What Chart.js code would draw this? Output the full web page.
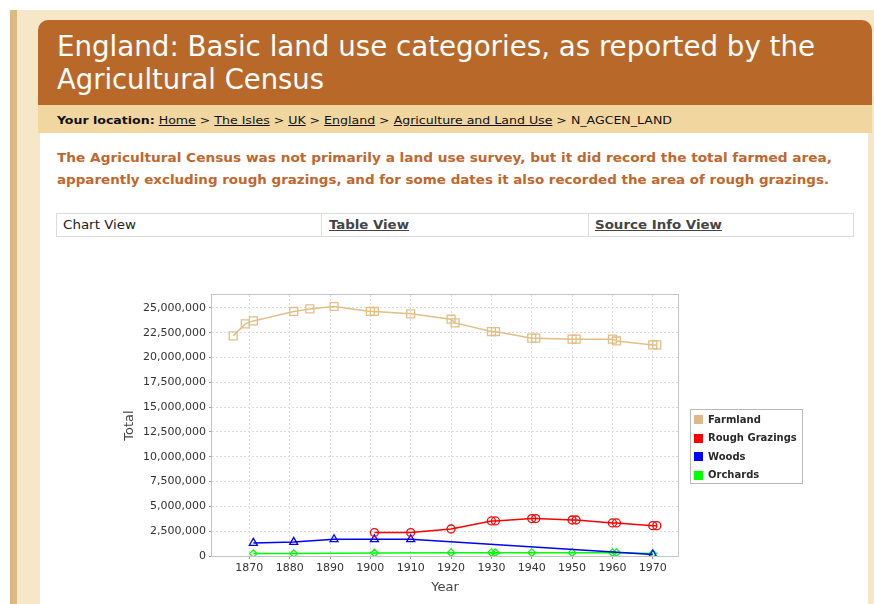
<!DOCTYPE html>
<html>
<head>
<meta charset="utf-8">
<script src="https://cdn.jsdelivr.net/npm/chart.js@4.4.1/dist/chart.umd.min.js"></script>
<style>
  html,body{margin:0;padding:0;}
  body{width:874px;height:604px;overflow:hidden;position:relative;background:#fff;font-family:"DejaVu Sans",sans-serif;}
  .abs{position:absolute;}
  .txt{position:absolute;white-space:nowrap;display:inline-block;transform-origin:0 50%;}
  .u{text-decoration:underline;}
</style>
</head>
<body>
<div class="abs" style="left:10px;top:10px;width:864px;height:594px;background:#f6e7c9;"></div>
<div class="abs" style="left:10px;top:10px;width:7px;height:594px;background:#dcb982;"></div>
<div class="abs" style="left:38px;top:20px;width:834px;height:86px;background:#b8692a;border-radius:10px 10px 0 0;"></div>
<div class="abs" style="left:38px;top:105px;width:834px;height:28px;background:#f2d6a0;"></div>
<div class="abs" style="left:40px;top:133px;width:828px;height:471px;background:#fff;"></div>

<div class="txt" data-w="758" style="left:57px;top:31px;font:28px 'DejaVu Sans Condensed','DejaVu Sans',sans-serif;color:#fff;line-height:32px;">England: Basic land use categories, as reported by the</div>
<div class="txt" data-w="267" style="left:57px;top:64px;font:28px 'DejaVu Sans Condensed','DejaVu Sans',sans-serif;color:#fff;line-height:32px;">Agricultural Census</div>

<div class="txt" data-w="615" style="left:57px;top:113px;font:11px 'DejaVu Sans Condensed','DejaVu Sans',sans-serif;color:#111;line-height:16px;"><b>Your location:</b> <span class="u">Home</span> &gt; <span class="u">The Isles</span> &gt; <span class="u">UK</span> &gt; <span class="u">England</span> &gt; <span class="u">Agriculture and Land Use</span> &gt; N_AGCEN_LAND</div>

<div class="txt" data-w="775" style="left:57px;top:149px;font:bold 13px 'DejaVu Sans Condensed','DejaVu Sans',sans-serif;color:#c1662c;line-height:18px;">The Agricultural Census was not primarily a land use survey, but it did record the total farmed area,</div>
<div class="txt" data-w="772" style="left:57px;top:171px;font:bold 13px 'DejaVu Sans Condensed','DejaVu Sans',sans-serif;color:#c1662c;line-height:18px;">apparently excluding rough grazings, and for some dates it also recorded the area of rough grazings.</div>

<div class="abs" style="left:56px;top:213px;width:796px;height:22px;border:1px solid #dcdcdc;"></div>
<div class="abs" style="left:321px;top:214px;width:1px;height:22px;background:#dcdcdc;"></div>
<div class="abs" style="left:588px;top:214px;width:1px;height:22px;background:#dcdcdc;"></div>
<div class="txt" data-w="73" style="left:63px;top:216px;font:13px 'DejaVu Sans Condensed','DejaVu Sans',sans-serif;color:#222;line-height:18px;">Chart View</div>
<div class="txt u" data-w="80" style="left:329px;top:216px;font:bold 13px 'DejaVu Sans Condensed','DejaVu Sans',sans-serif;color:#444;line-height:18px;">Table View</div>
<div class="txt u" data-w="127" style="left:595px;top:216px;font:bold 13px 'DejaVu Sans Condensed','DejaVu Sans',sans-serif;color:#444;line-height:18px;">Source Info View</div>

<canvas id="c" width="720" height="320" style="position:absolute;left:100px;top:280px;width:720px;height:320px;"></canvas>

<script>
// ---------- data (values in acres) ----------
const xTickYears = [1870,1880,1890,1900,1910,1920,1930,1940,1950,1960,1970];
const yTickValues = [0,2500000,5000000,7500000,10000000,12500000,15000000,17500000,20000000,22500000,25000000];

const seriesNames = ["Farmland","Rough Grazings","Woods","Orchards"];

const farmlandYears  = [1866,1869,1871,1881,1885,1891,1900,1901,1910,1920,1921,1930,1931,1940,1941,1950,1951,1960,1961,1970,1971];
const farmlandValues = [22180000,23390000,23690000,24640000,24900000,25140000,24640000,24640000,24400000,23860000,23490000,22620000,22620000,21950000,21950000,21850000,21850000,21850000,21670000,21270000,21270000];

const roughYears  = [1901,1910,1920,1930,1931,1940,1941,1950,1951,1960,1961,1970,1971];
const roughValues = [2360000,2360000,2720000,3530000,3530000,3770000,3770000,3630000,3630000,3330000,3330000,3060000,3060000];

const woodsYears  = [1871,1881,1891,1901,1910,1970];
const woodsValues = [1310000,1410000,1680000,1680000,1680000,140000];

const orchardYears  = [1871,1881,1901,1920,1930,1931,1940,1950,1960,1961,1970];
const orchardValues = [240000,240000,300000,340000,340000,340000,340000,340000,340000,340000,240000];

// ---------- text fitting ----------
function fitText(){
  document.querySelectorAll('[data-w]').forEach(el=>{
    el.style.transform='none';
    const w = el.getBoundingClientRect().width;
    if (w>0) el.style.transform = 'scaleX(' + (parseFloat(el.dataset.w)/w) + ')';
  });
}
fitText();
if (document.fonts && document.fonts.ready) document.fonts.ready.then(fitText);

const pts = (xs, ys) => xs.map((x,i)=>({x:x, y:ys[i]}));
const colors = ["#e2bf85","#ff0000","#0000ff","#00ff00"];
const styles = ["rect","circle","triangle","rectRot"];
const radii  = [5.6,4.0,4.6,3.8];
const allData = [pts(farmlandYears,farmlandValues), pts(roughYears,roughValues), pts(woodsYears,woodsValues), pts(orchardYears,orchardValues)];

const datasets = seriesNames.map((n,i)=>({
  label: n,
  data: allData[i],
  borderColor: colors[i],
  backgroundColor: colors[i],
  borderWidth: 1.5,
  pointStyle: styles[i],
  pointRadius: radii[i],
  pointBorderColor: colors[i],
  pointBackgroundColor: 'rgba(0,0,0,0)',
  pointBorderWidth: 1.3,
  tension: 0,
  fill: false
}));

const framePlugin = {
  id:'frame',
  beforeDatasetsDraw(chart){
    const {ctx, chartArea:a} = chart;
    ctx.save();
    ctx.strokeStyle = '#c4c4c4';
    ctx.lineWidth = 1;
    ctx.strokeRect(Math.round(a.left)-0.5, Math.round(a.top)-0.5, Math.round(a.width)+1, Math.round(a.height)+1);
    ctx.restore();
  }
};

const legendPlugin = {
  id:'boxLegend',
  afterDraw(chart){
    const ctx = chart.ctx;
    const bx = 590.5, by = 129.5, bw = 112, bh = 74;
    ctx.save();
    ctx.fillStyle = '#fff';
    ctx.fillRect(bx,by,bw,bh);
    ctx.strokeStyle = '#b8b8b8';
    ctx.lineWidth = 1;
    ctx.strokeRect(bx,by,bw,bh);
    ctx.font = 'bold 10px "DejaVu Sans", sans-serif';
    ctx.textBaseline = 'middle';
    chart.data.datasets.forEach((d,i)=>{
      const cy = by + 10 + i*18.5;
      ctx.fillStyle = i === 0 ? '#deb887' : d.borderColor;
      ctx.fillRect(594, Math.round(cy-4.5), 9, 9);
      ctx.fillStyle = '#2a2a2a';
      ctx.fillText(d.label, 608, cy+0.5);
    });
    ctx.restore();
  }
};

new Chart(document.getElementById('c'), {
  type: 'line',
  data: { datasets },
  plugins: [framePlugin, legendPlugin],
  options: {
    responsive: false,
    animation: false,
    devicePixelRatio: 1,
    layout: { padding: { left: 0, top: 15, right: 142, bottom: 0 } },
    plugins: { legend: { display: false }, tooltip: { enabled: false } },
    scales: {
      x: {
        type: 'linear',
        min: 1860.75, max: 1976.25,
        afterBuildTicks: s => { s.ticks = xTickYears.map(v=>({value:v})); },
        afterFit: s => { s.height = 44; },
        ticks: { autoSkip:false, maxRotation:0, padding:3, color:'#333',
                 font:{family:'DejaVu Sans', size:11}, callback: v => String(v) },
        grid: { color:'#dcdcdc', lineWidth:1, tickColor:'#999', tickLength:3 },
        border: { display:false, dash:[2,2] },
        title: { display:true, text:'Year', color:'#444', font:{family:'DejaVu Sans', size:13}, padding:{top:0,bottom:5} }
      },
      y: {
        type: 'linear',
        min: 0, max: 26300000,
        afterBuildTicks: s => { s.ticks = yTickValues.map(v=>({value:v})); },
        afterFit: s => { s.width = 112; },
        ticks: { autoSkip:false, padding:3, color:'#333',
                 font:{family:'DejaVu Sans', size:11}, callback: v => Number(v).toLocaleString('en-US') },
        grid: { color:'#dcdcdc', lineWidth:1, tickColor:'#999', tickLength:3 },
        border: { display:false, dash:[2,2] },
        title: { display:true, text:'Total', color:'#444', font:{family:'DejaVu Sans', size:13}, padding:{top:22,bottom:0} }
      }
    }
  }
});
</script>
</body>
</html>
